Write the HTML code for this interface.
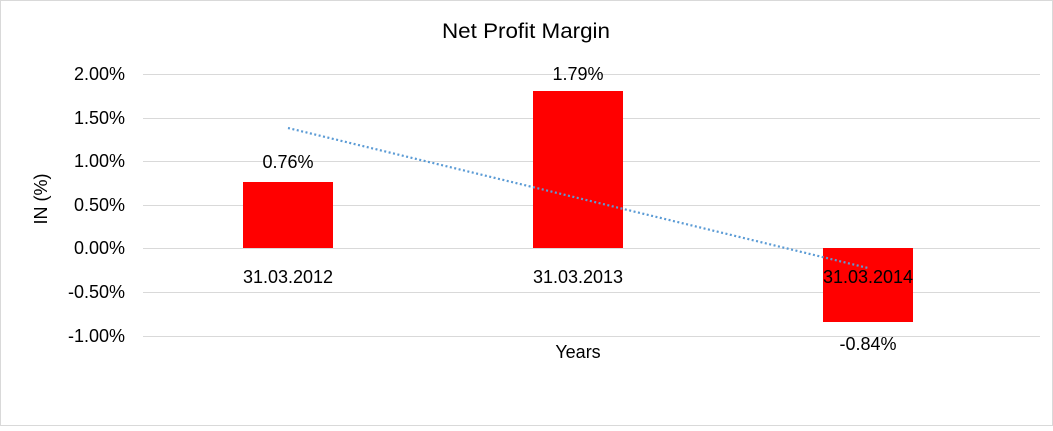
<!DOCTYPE html>
<html><head><meta charset="utf-8"><style>
body{margin:0;background:#fff}
svg text{font-family:"Liberation Sans",Arial,sans-serif;fill:#000}
</style></head><body>
<svg width="1053" height="426" xmlns="http://www.w3.org/2000/svg">
<rect x="0.5" y="0.5" width="1052" height="425" fill="#fff" stroke="#d9d9d9"/>
<text x="526" y="38" font-size="21" text-anchor="middle" textLength="168" lengthAdjust="spacingAndGlyphs">Net Profit Margin</text>
<g stroke="#d9d9d9" stroke-width="1">
<line x1="143" y1="74.5" x2="1040" y2="74.5"/>
<line x1="143" y1="118.5" x2="1040" y2="118.5"/>
<line x1="143" y1="161.5" x2="1040" y2="161.5"/>
<line x1="143" y1="205.5" x2="1040" y2="205.5"/>
<line x1="143" y1="248.5" x2="1040" y2="248.5"/>
<line x1="143" y1="292.5" x2="1040" y2="292.5"/>
<line x1="143" y1="336.5" x2="1040" y2="336.5"/>
</g>
<g font-size="18" text-anchor="end">
<text x="125" y="80">2.00%</text>
<text x="125" y="124">1.50%</text>
<text x="125" y="167">1.00%</text>
<text x="125" y="211">0.50%</text>
<text x="125" y="254">0.00%</text>
<text x="125" y="298">-0.50%</text>
<text x="125" y="342">-1.00%</text>
</g>
<text transform="translate(47,199) rotate(-90)" font-size="18" text-anchor="middle">IN (%)</text>
<rect x="243" y="182" width="90" height="66" fill="#ff0000"/>
<rect x="533" y="91" width="90" height="157" fill="#ff0000"/>
<rect x="823" y="248" width="90" height="74" fill="#ff0000"/>
<line x1="288" y1="128" x2="868" y2="268" stroke="#5b9bd5" stroke-width="2.2" stroke-dasharray="2,2.5"/>
<g font-size="18" text-anchor="middle">
<text x="288" y="168">0.76%</text>
<text x="578" y="80">1.79%</text>
<text x="868" y="350">-0.84%</text>
<text x="288" y="283">31.03.2012</text>
<text x="578" y="283">31.03.2013</text>
<text x="868" y="283">31.03.2014</text>
<text x="578" y="358">Years</text>
</g>
</svg>
</body></html>
